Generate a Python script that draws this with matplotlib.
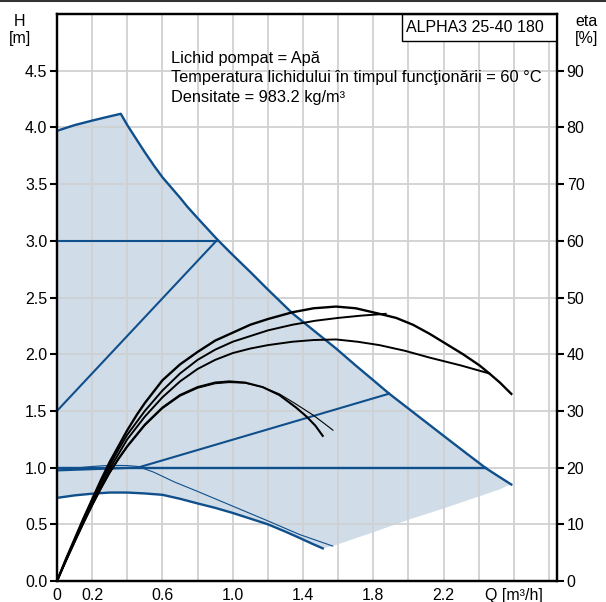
import matplotlib.pyplot as plt
from matplotlib.patches import Rectangle
from matplotlib.lines import Line2D

plt.rcParams['font.family'] = ['Liberation Sans', 'DejaVu Sans']

# === DATA ===
# Q [m3/h], H [m]
top_q = [0, 0.05, 0.1, 0.15, 0.2, 0.28, 0.363]
top_h = [3.97, 3.995, 4.02, 4.04, 4.06, 4.09, 4.12]

max_q = [0.363, 0.4, 0.45, 0.5, 0.553, 0.6, 0.65, 0.7, 0.742, 0.8, 0.913, 1.0, 1.1, 1.2, 1.34,
         1.46, 1.588, 1.7, 1.8, 1.89, 2.0, 2.1, 2.2, 2.33, 2.443, 2.52, 2.585]
max_h = [4.12, 4.02, 3.9, 3.78, 3.66, 3.56, 3.47, 3.38, 3.30, 3.20, 3.01, 2.875, 2.725, 2.57, 2.36,
         2.21, 2.05, 1.90, 1.77, 1.652, 1.52, 1.40, 1.28, 1.125, 0.992, 0.915, 0.851]

low_edge_q = [2.585, 2.56, 2.52, 2.4, 2.2, 2.0, 1.8, 1.569]
low_edge_h = [0.851, 0.838, 0.808, 0.745, 0.64, 0.54, 0.43, 0.308]

min_q = [0, 0.1, 0.2, 0.3, 0.4, 0.5, 0.6, 0.7, 0.8, 0.9, 1.0, 1.1, 1.2, 1.3, 1.38, 1.45, 1.512]
min_h = [0.733, 0.755, 0.77, 0.78, 0.78, 0.772, 0.76, 0.725, 0.684, 0.645, 0.60, 0.55, 0.50, 0.435,
         0.38, 0.33, 0.288]

thin_q = [0, 0.1, 0.2, 0.3, 0.4, 0.46, 0.55, 0.667, 0.8, 1.0, 1.2, 1.38, 1.569]
thin_h = [0.975, 0.995, 1.01, 1.02, 1.018, 1.01, 0.96, 0.874, 0.79, 0.66, 0.53, 0.41, 0.308]

pp_high_q = [0, 0.913]
pp_high_h = [1.5, 3.01]
cp_high_q = [0, 0.913]
cp_high_h = [3.0, 3.0]
pp_low_q = [0, 0.46, 1.89]
pp_low_h = [0.975, 1.0, 1.652]
cp_low_q = [0, 2.443]
cp_low_h = [1.0, 1.0]

# efficiency curves (eta [%] / 20 -> H scale)
eta_a_q = [0, 0.05, 0.1, 0.15, 0.2, 0.25, 0.3, 0.35, 0.4, 0.456, 0.5, 0.6, 0.7, 0.8, 0.9, 1.0, 1.1,
           1.2, 1.34, 1.46, 1.588, 1.7, 1.835, 1.93, 2.025, 2.12, 2.215, 2.31, 2.405, 2.46, 2.52, 2.585]
eta_a_h = [0, 0.19, 0.37, 0.55, 0.72, 0.89, 1.05, 1.19, 1.33, 1.47, 1.57, 1.77, 1.91, 2.02, 2.12, 2.19,
           2.26, 2.31, 2.37, 2.405, 2.42, 2.405, 2.356, 2.32, 2.26, 2.18, 2.09, 2.0, 1.90, 1.83, 1.75, 1.65]
eta_b_q = [0, 0.05, 0.1, 0.15, 0.2, 0.25, 0.3, 0.35, 0.4, 0.5, 0.6, 0.7, 0.8, 0.9, 1.0, 1.1, 1.2,
           1.34, 1.47, 1.6, 1.73, 1.87]
eta_b_h = [0, 0.185, 0.36, 0.54, 0.71, 0.87, 1.02, 1.16, 1.29, 1.50, 1.68, 1.83, 1.95, 2.04, 2.11, 2.16,
           2.21, 2.26, 2.295, 2.32, 2.34, 2.356]
eta_c_q = [0, 0.05, 0.1, 0.15, 0.2, 0.25, 0.3, 0.35, 0.4, 0.5, 0.6, 0.7, 0.8, 0.9, 1.0, 1.1, 1.2,
           1.34, 1.46, 1.588, 1.71, 1.835, 1.98, 2.12, 2.3, 2.46]
eta_c_h = [0, 0.18, 0.35, 0.52, 0.69, 0.84, 0.99, 1.12, 1.25, 1.45, 1.62, 1.76, 1.87, 1.95, 2.01, 2.05,
           2.08, 2.11, 2.125, 2.13, 2.11, 2.08, 2.03, 1.97, 1.9, 1.83]
eta_d_q = [0, 0.05, 0.1, 0.15, 0.2, 0.25, 0.3, 0.35, 0.4, 0.5, 0.6, 0.7, 0.8, 0.9, 0.98, 1.07, 1.17,
           1.265, 1.36, 1.42, 1.47, 1.512]
eta_d_h = [0, 0.175, 0.345, 0.51, 0.67, 0.82, 0.96, 1.08, 1.19, 1.38, 1.53, 1.64, 1.71, 1.75, 1.76, 1.75,
           1.71, 1.64, 1.53, 1.45, 1.37, 1.28]
eta_e_q = [0, 0.05, 0.1, 0.15, 0.2, 0.25, 0.3, 0.35, 0.4, 0.5, 0.6, 0.7, 0.8, 0.9, 0.98, 1.07, 1.17,
           1.265, 1.36, 1.46, 1.52, 1.57]
eta_e_h = [0, 0.17, 0.34, 0.505, 0.66, 0.81, 0.95, 1.07, 1.18, 1.37, 1.52, 1.63, 1.70, 1.74, 1.75, 1.745,
           1.71, 1.65, 1.56, 1.46, 1.39, 1.33]

x_ticks = [0, 0.2, 0.4, 0.6, 0.8, 1.0, 1.2, 1.4, 1.6, 1.8, 2.0, 2.2, 2.4, 2.6, 2.8]
x_labels = ['0', '0.2', '', '0.6', '', '1.0', '', '1.4', '', '1.8', '', '2.2', '', 'Q [m³/h]', '']
x_marks = [0, 0.4, 0.8, 1.2, 1.6, 2.0, 2.4, 2.8]
h_ticks = [0, 0.5, 1.0, 1.5, 2.0, 2.5, 3.0, 3.5, 4.0, 4.5]
eta_ticks = [0, 10, 20, 30, 40, 50, 60, 70, 80, 90]

info_lines = ['Lichid pompat = Apă',
              'Temperatura lichidului în timpul funcţionării = 60 °C',
              'Densitate = 983.2 kg/m³']

BLUE = '#0f4f8c'
FILL = '#d0dce7'
FS = 11.5

fig = plt.figure(figsize=(6.06, 6.02), dpi=100)
ax = fig.add_axes([57 / 606, 1 - 581 / 602, 500 / 606, 567 / 602])

# shaded operating range
poly_q = top_q + max_q[1:] + low_edge_q[1:] + min_q[::-1]
poly_h = top_h + max_h[1:] + low_edge_h[1:] + min_h[::-1]
ax.fill(poly_q, poly_h, color=FILL, lw=0, zorder=1)

ax.plot(top_q + max_q[1:], top_h + max_h[1:], color=BLUE, lw=1.7, zorder=3)
ax.plot(min_q, min_h, color=BLUE, lw=1.7, zorder=3)
ax.plot(thin_q, thin_h, color=BLUE, lw=0.8, zorder=3)
ax.plot(pp_high_q, pp_high_h, color=BLUE, lw=1.5, zorder=3)
ax.plot(cp_high_q, cp_high_h, color=BLUE, lw=1.5, zorder=3)
ax.plot(pp_low_q, pp_low_h, color=BLUE, lw=1.5, zorder=3)
ax.plot(cp_low_q, cp_low_h, color=BLUE, lw=1.7, zorder=3)

for q, h, w in [(eta_a_q, eta_a_h, 1.7), (eta_b_q, eta_b_h, 1.4), (eta_c_q, eta_c_h, 1.4),
                (eta_d_q, eta_d_h, 1.5), (eta_e_q, eta_e_h, 0.8)]:
    ax.plot(q, h, color='black', lw=w, zorder=4)

ax.set_xlim(0, 2.845)
ax.set_ylim(0, 5.0)
ax.set_xticks(x_ticks)
ax.set_xticklabels(x_labels)
ax.set_xticks(x_marks, minor=True)
ax.tick_params(axis='x', which='major', length=0, pad=5, labelsize=FS)
ax.tick_params(axis='x', which='minor', length=5, width=1.5, direction='out')
ax.set_yticks(h_ticks)
ax.set_yticklabels(['%.1f' % v for v in h_ticks])
ax.tick_params(axis='y', length=5, width=1.5, pad=2, labelsize=FS)
ax.grid(True, color='#cfd1d3', lw=1.3)

for s in ax.spines.values():
    s.set_linewidth(1.6)

ax2 = ax.twinx()
ax2.set_ylim(0, 100)
ax2.set_yticks(eta_ticks)
ax2.tick_params(axis='y', length=5, width=1.5, pad=2, labelsize=FS)
for s in ax2.spines.values():
    s.set_linewidth(1.6)

for i, line in enumerate(info_lines):
    ax.text(0.228, 0.922 - i * 0.0345, line, transform=ax.transAxes,
            fontsize=11.8, va='center', ha='left', zorder=5)

ax.add_patch(Rectangle((0.69, 0.952), 0.31, 0.048, transform=ax.transAxes,
                       facecolor='white', edgecolor='black', lw=1.0, zorder=5))
ax.text(0.698, 0.976, 'ALPHA3 25-40 180', transform=ax.transAxes,
        fontsize=FS, va='center', ha='left', zorder=6)

fig.text(20 / 606, 1 - 30 / 602, 'H\n[m]', ha='center', va='center', fontsize=FS, linespacing=1.15)
fig.text(587 / 606, 1 - 30 / 602, 'eta\n[%]', ha='center', va='center', fontsize=FS, linespacing=1.15)
fig.add_artist(Line2D([0, 1], [0.998, 0.998], transform=fig.transFigure, color='#333333', lw=1.5))

plt.savefig('out.png', dpi=100)
